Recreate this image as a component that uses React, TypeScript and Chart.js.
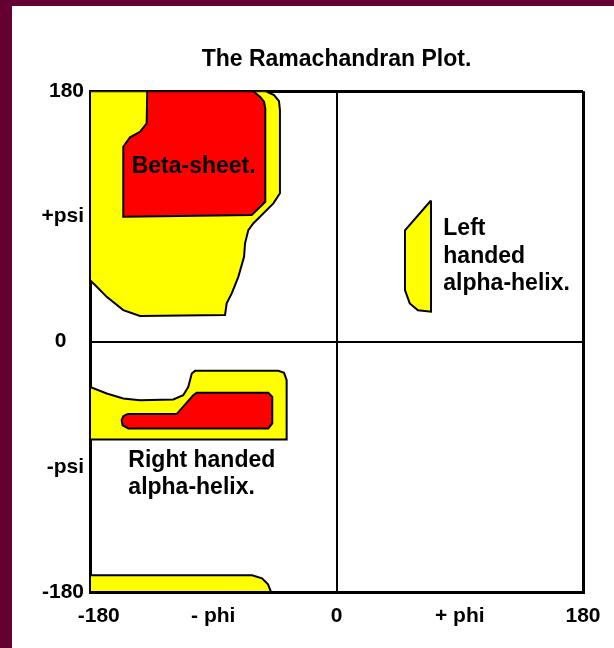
import React, { useEffect, useRef } from 'react';
import { Chart, registerables } from 'chart.js';

Chart.register(...registerables);

const TITLE = 'The Ramachandran Plot.';
const AXIS_TICKS = [-180, -90, 0, 90, 180];
const PHI_TICK_LABELS = ['   -180', '- phi', '0', '+ phi', '180'];
const PSI_TICK_LABELS = ['-180', '-psi', '0   ', '+psi', '180'];

// Region outlines as [phi, psi] in degrees
const BETA_ALLOWED: [number, number][] = [
  [-180, 180], [-51.5, 180], [-45.6, 177.3], [-42.0, 173.0], [-41.3, 166.5],
  [-41.3, 106.7], [-46.1, 99.4], [-60.8, 85.0], [-64.4, 80.2], [-66.8, 70.6],
  [-67.5, 61.0], [-71.7, 46.6], [-76.5, 34.7], [-80.2, 27.5], [-81.4, 19.1],
  [-143.5, 18.4], [-155.7, 22.7], [-167.8, 32.2], [-176.3, 40.7], [-180, 44.2], [-180, 180],
];
const BETA_FAVOURED: [number, number][] = [
  [-138.2, 180], [-60.8, 180], [-55.9, 176.1], [-52.9, 172.5], [-52.0, 167.8],
  [-52.0, 100.6], [-61.9, 91.0], [-155.2, 89.8], [-155.7, 140.1], [-150.8, 146.9],
  [-143.5, 150.9], [-138.6, 157.0], [-138.2, 180],
];
const ALPHA_R_ALLOWED: [number, number][] = [
  [-180, -32.5], [-167.8, -37.3], [-155.7, -40.9], [-143.5, -42.1], [-119.2, -41.6],
  [-111.9, -38.5], [-108.2, -32.5], [-105.7, -22.9], [-103.3, -21.0], [-42.5, -21.0],
  [-38.3, -22.4], [-36.4, -27.7], [-36.4, -70.3], [-180, -70.3], [-180, -32.5],
];
const ALPHA_R_FAVOURED: [number, number][] = [
  [-152.8, -52.1], [-116.7, -52.1], [-104.6, -38.5], [-102.1, -36.8], [-49.8, -36.8],
  [-46.9, -39.7], [-46.9, -58.8], [-49.8, -62.4], [-152.0, -62.4], [-156.2, -60.1],
  [-156.9, -56.4], [-155.7, -53.6], [-152.8, -52.1],
];
const BETA_WRAP_ALLOWED: [number, number][] = [
  [-180, -168], [-61.7, -168], [-54.4, -170.2], [-50.0, -174.5], [-47.8, -180],
  [-180, -180], [-180, -168],
];
const ALPHA_L_ALLOWED: [number, number][] = [
  [69, 101.5], [50, 80], [50, 37], [53.5, 27.5], [59.5, 22.5], [69, 21.5], [69, 101.5],
];

const LABEL_TEXTS = ['Beta-sheet.', 'Right handed', 'alpha-helix.', 'Left', 'handed', 'alpha-helix.'];
const LABEL_PHI = [-149.6, -152, -152, 78, 78, 78];
const LABEL_PSI = [121, -90.1, -109.2, 76.6, 56.3, 37.1];

const YELLOW = '#ffff00';
const RED = '#ff0000';
const FONT = '"Liberation Sans", Arial, sans-serif';

const toPts = (arr: [number, number][]) => arr.map(([x, y]) => ({ x, y }));

const regionLabels = {
  id: 'regionLabels',
  afterDatasetsDraw(chart: any) {
    const { ctx, scales } = chart;
    ctx.save();
    ctx.fillStyle = '#000';
    ctx.font = `bold 23px ${FONT}`;
    ctx.textAlign = 'left';
    ctx.textBaseline = 'alphabetic';
    LABEL_TEXTS.forEach((t, i) => {
      ctx.fillText(t, scales.x.getPixelForValue(LABEL_PHI[i]), scales.y.getPixelForValue(LABEL_PSI[i]));
    });
    ctx.restore();
  },
};

export default function App() {
  const ref = useRef<HTMLCanvasElement>(null);
  useEffect(() => {
    if (!ref.current) return;
    const region = (data: [number, number][], color: string, order: number) => ({
      data: toPts(data),
      showLine: true,
      fill: 'shape',
      backgroundColor: color,
      borderColor: '#000',
      borderWidth: 2,
      pointRadius: 0,
      tension: 0,
      order,
    });
    const gridColor = (c: any) => (AXIS_TICKS.includes(c.tick?.value) && c.tick.value % 180 === 0 ? '#000' : 'rgba(0,0,0,0)');
    const gridWidth = (c: any) => (c.tick?.value === 0 ? 2 : 3);
    const tickFont = { family: FONT, size: 21, weight: 'bold' };
    const chart = new Chart(ref.current, {
      type: 'scatter',
      data: {
        datasets: [
          region(BETA_FAVOURED, RED, 0),
          region(ALPHA_R_FAVOURED, RED, 0),
          region(BETA_ALLOWED, YELLOW, 1),
          region(ALPHA_R_ALLOWED, YELLOW, 1),
          region(BETA_WRAP_ALLOWED, YELLOW, 1),
          region(ALPHA_L_ALLOWED, YELLOW, 1),
        ] as any,
      },
      options: {
        animation: false,
        responsive: true,
        maintainAspectRatio: false,
        events: [],
        layout: { padding: { left: 0, right: 31, top: 0, bottom: 0 } },
        plugins: {
          legend: { display: false },
          tooltip: { enabled: false },
          title: {
            display: true,
            text: TITLE,
            fullSize: false,
            color: '#000',
            font: { family: FONT, size: 23, weight: 'bold' },
            padding: { top: 46, bottom: 17.7 },
          },
        },
        scales: {
          x: {
            type: 'linear',
            min: -180,
            max: 180,
            z: 1,
            afterBuildTicks: (s: any) => { s.ticks = AXIS_TICKS.map((v) => ({ value: v })); },
            afterFit: (s: any) => { s.height = 56; },
            ticks: {
              color: '#000',
              font: tickFont,
              padding: 12,
              maxRotation: 0,
              autoSkip: false,
              callback: (v: any) => PHI_TICK_LABELS[AXIS_TICKS.indexOf(Number(v))] ?? '',
            },
            grid: { color: gridColor, lineWidth: gridWidth, drawTicks: false },
            border: { display: true, color: '#000', width: 3 },
          },
          y: {
            type: 'linear',
            min: -180,
            max: 180,
            z: 1,
            afterBuildTicks: (s: any) => { s.ticks = AXIS_TICKS.map((v) => ({ value: v })); },
            afterFit: (s: any) => { s.width = 90; },
            ticks: {
              color: '#000',
              font: tickFont,
              padding: 6,
              autoSkip: false,
              callback: (v: any) => PSI_TICK_LABELS[AXIS_TICKS.indexOf(Number(v))] ?? '',
            },
            grid: { color: gridColor, lineWidth: gridWidth, drawTicks: false },
            border: { display: true, color: '#000', width: 3 },
          },
        },
      } as any,
      plugins: [regionLabels],
    });
    return () => chart.destroy();
  }, []);

  return (
    <div style={{ position: 'fixed', left: 0, top: 0, width: 614, height: 648, background: '#660033' }}>
      <div style={{ position: 'absolute', left: 12, top: 6, right: 0, bottom: 0, background: '#ffffff' }} />
      <div style={{ position: 'absolute', left: 0, top: 0, width: 614, height: 648 }}>
        <canvas ref={ref} />
      </div>
    </div>
  );
}
